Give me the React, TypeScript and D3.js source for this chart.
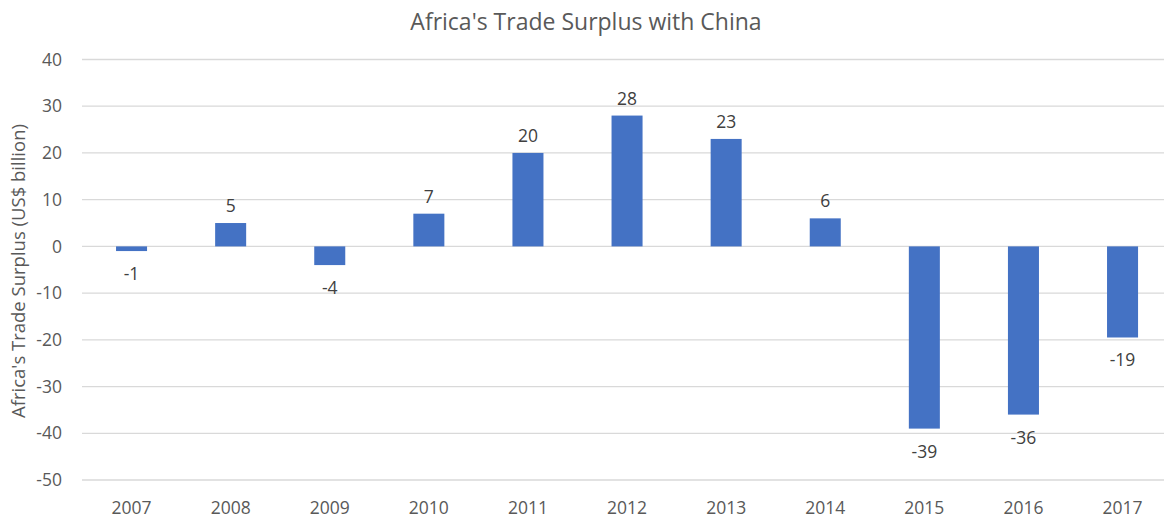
import React from "react";
import * as d3 from "d3";

const years = ["2007", "2008", "2009", "2010", "2011", "2012", "2013", "2014", "2015", "2016", "2017"];
const surplus = [-1, 5, -4, 7, 20, 28, 23, 6, -39, -36, -19.5];
const labels = ["-1", "5", "-4", "7", "20", "28", "23", "6", "-39", "-36", "-19"];
const yTicks = [40, 30, 20, 10, 0, -10, -20, -30, -40, -50];

const W = 1164;
const H = 519;
const FONT = "'Open Sans', 'Noto Sans', sans-serif";

export default function App() {
  const left = 82;
  const step = 99.1;
  const x = d3.scaleBand<string>().domain(years).range([left, left + step * years.length]).paddingInner(0.687).paddingOuter(0.3435);
  const y = d3.scaleLinear().domain([-50, 40]).range([480, 59.5]);
  const bw = x.bandwidth();

  return (
    <svg width={W} height={H} style={{ position: "absolute", left: 0, top: 0, background: "#fff" }} fontFamily={FONT}>
      <rect x={0} y={0} width={W} height={H} fill="#fff" />
      <text x={586} y={30} textAnchor="middle" fontSize={23} fill="#595959">Africa's Trade Surplus with China</text>
      {yTicks.map((t) => (
        <g key={t}>
          <line x1={left} x2={W} y1={y(t)} y2={y(t)} stroke="#d9d9d9" strokeWidth={1.3} />
          <text x={62} y={y(t)} dy="0.35em" textAnchor="end" fontSize={17.5} fill="#595959">{t}</text>
        </g>
      ))}
      <text transform={`translate(25,271) rotate(-90)`} textAnchor="middle" fontSize={18.5} fill="#595959">Africa's Trade Surplus (US$ billion)</text>
      {years.map((yr, i) => {
        const v = surplus[i];
        const bx = x(yr)!;
        const y0 = y(0);
        const yv = y(v);
        const cx = bx + bw / 2;
        return (
          <g key={yr}>
            <rect x={bx} y={Math.min(y0, yv)} width={bw} height={Math.abs(yv - y0)} fill="#4472c4" />
            <text x={cx} y={v >= 0 ? yv - 11 : yv + 29} textAnchor="middle" fontSize={17.5} fill="#404040">{labels[i]}</text>
            <text x={cx} y={514} textAnchor="middle" fontSize={17.5} fill="#595959">{yr}</text>
          </g>
        );
      })}
    </svg>
  );
}
